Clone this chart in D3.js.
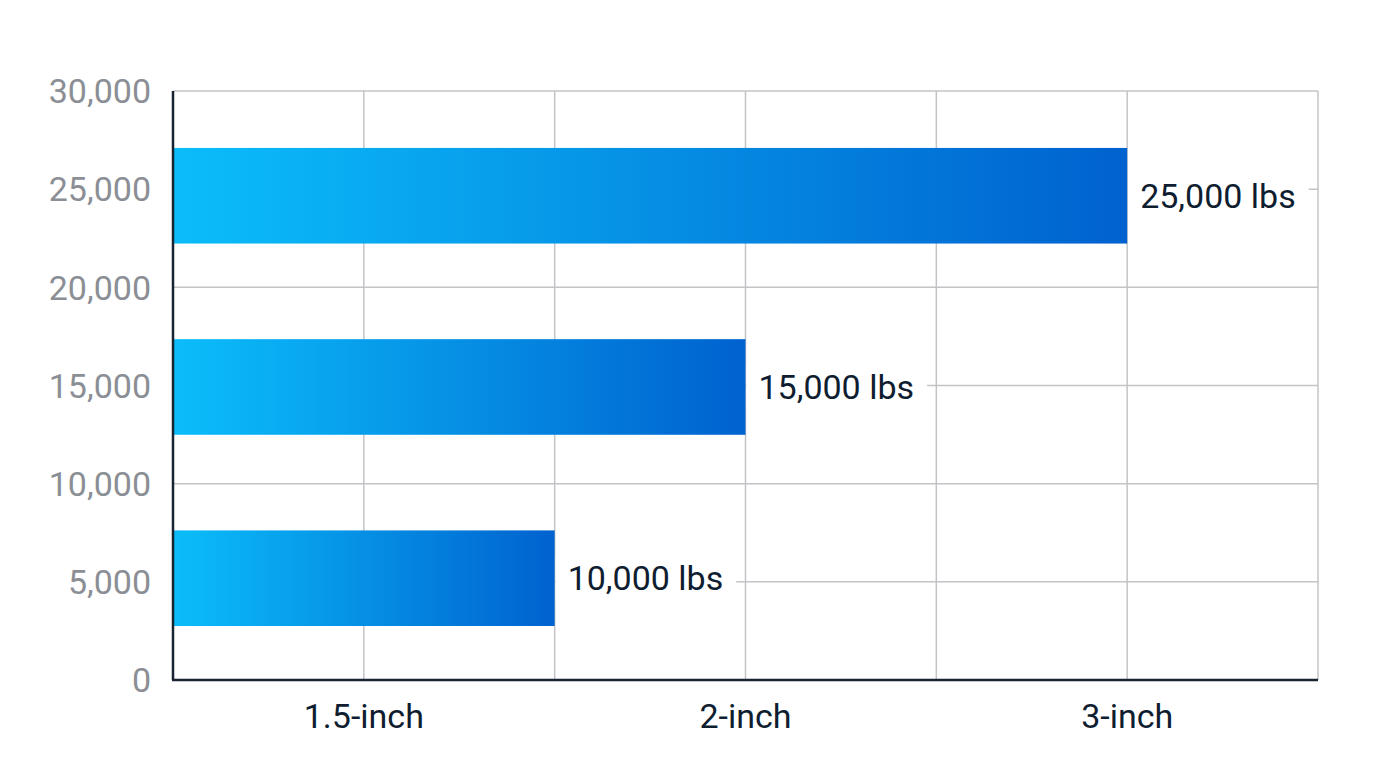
<!DOCTYPE html>
<html>
<head>
<meta charset="utf-8">
<script src="https://cdn.jsdelivr.net/npm/d3@7"></script>
<style>
    html, body { margin: 0; padding: 0; background: #ffffff; }
    #canvas { width: 1376px; height: 768px; }
    text { font-family: Roboto, "Noto Sans", sans-serif; }
</style>
</head>
<body>
<div id="canvas"></div>
<script>
var sizes = ['1.5-inch', '2-inch', '3-inch'];
var capacities = [10000, 15000, 25000];
var valueLabels = ['10,000 lbs', '15,000 lbs', '25,000 lbs'];
var yTicks = [0, 5000, 10000, 15000, 20000, 25000, 30000];
var xGridTicks = [5000, 10000, 15000, 20000, 25000, 30000];
var sizeTickValues = [5000, 15000, 25000];

function init()
{
    var wrapper = d3.select('#canvas');
    var width = 1376;
    var height = 768;

    var canvas = wrapper.append('svg');
    canvas.attr('width', width)
          .attr('height', height);

    var margin = {'left': 173, 'right': 58, 'top': 91, 'bottom': 88};
    var x = d3.scaleLinear()
              .domain([0, 30000])
              .range([margin.left, width - margin.right]);
    var y = d3.scaleLinear()
              .domain([0, 30000])
              .range([height - margin.bottom, margin.top]);

    /* Полосы для столбцов: 1.5-inch внизу */
    var band = d3.scaleBand()
                 .domain(sizes)
                 .range([y(2750), y(27100)])
                 .paddingInner(0.5)
                 .paddingOuter(0);

    var defs = canvas.append('defs');
    var grad = defs.append('linearGradient');
    grad.attr('id', 'barGrad')
        .attr('x1', '0%').attr('y1', '0%')
        .attr('x2', '100%').attr('y2', '0%');
    grad.append('stop').attr('offset', '0%').attr('stop-color', '#0bbdfa');
    grad.append('stop').attr('offset', '100%').attr('stop-color', '#0062cf');

    /* Сетка */
    var grid = canvas.append('g');
    grid.selectAll('.hgrid')
        .data(yTicks)
        .enter()
            .append('line')
            .attr('x1', x(0))
            .attr('x2', x(30000))
            .attr('y1', function(d) { return y(d); })
            .attr('y2', function(d) { return y(d); })
            .attr('stroke', '#c2c4c7')
            .attr('stroke-width', 1.5);
    grid.selectAll('.vgrid')
        .data(xGridTicks)
        .enter()
            .append('line')
            .attr('x1', function(d) { return x(d); })
            .attr('x2', function(d) { return x(d); })
            .attr('y1', y(0))
            .attr('y2', y(30000))
            .attr('stroke', '#c2c4c7')
            .attr('stroke-width', 1.5);

    /* Столбцы */
    canvas.append('g')
          .selectAll('rect')
          .data(sizes)
          .enter()
              .append('rect')
              .attr('x', x(0))
              .attr('y', function(d) { return band(d); })
              .attr('width', function(d, i) { return x(capacities[i]) - x(0); })
              .attr('height', band.bandwidth())
              .attr('fill', 'url(#barGrad)');

    /* Подписи значений на белой подложке */
    var labels = canvas.append('g');
    sizes.forEach(function(s, i)
    {
        var g = labels.append('g');
        var bg = g.append('rect');
        var t = g.append('text');
        t.attr('x', x(capacities[i]) + 13)
         .attr('y', band(s) + band.bandwidth() / 2)
         .attr('dy', '0.36em')
         .attr('font-size', 34)
         .attr('fill', '#0f1d30')
         .text(valueLabels[i]);
        var len = t.node().getComputedTextLength();
        bg.attr('x', x(capacities[i]) + 1)
          .attr('y', band(s) + band.bandwidth() / 2 - 22)
          .attr('width', len + 25)
          .attr('height', 44)
          .attr('fill', '#ffffff');
    });

    /* Оси */
    var axes = canvas.append('g');
    axes.append('line')
        .attr('x1', x(0)).attr('x2', x(0))
        .attr('y1', y(30000)).attr('y2', y(0))
        .attr('stroke', '#1a2332')
        .attr('stroke-width', 2.5);
    axes.append('line')
        .attr('x1', x(0) - 1).attr('x2', x(30000))
        .attr('y1', y(0)).attr('y2', y(0))
        .attr('stroke', '#1a2332')
        .attr('stroke-width', 2.5);

    var fmt = d3.format(',');
    axes.selectAll('.ylab')
        .data(yTicks)
        .enter()
            .append('text')
            .attr('x', x(0) - 22)
            .attr('y', function(d) { return y(d); })
            .attr('dy', '0.36em')
            .attr('text-anchor', 'end')
            .attr('font-size', 34)
            .attr('fill', '#8b8f95')
            .text(function(d) { return fmt(d); });

    axes.selectAll('.xlab')
        .data(sizeTickValues)
        .enter()
            .append('text')
            .attr('x', function(d) { return x(d); })
            .attr('y', y(0) + 48)
            .attr('text-anchor', 'middle')
            .attr('font-size', 34)
            .attr('fill', '#0f1d30')
            .text(function(d, i) { return sizes[i]; });
}

init();
</script>
</body>
</html>
